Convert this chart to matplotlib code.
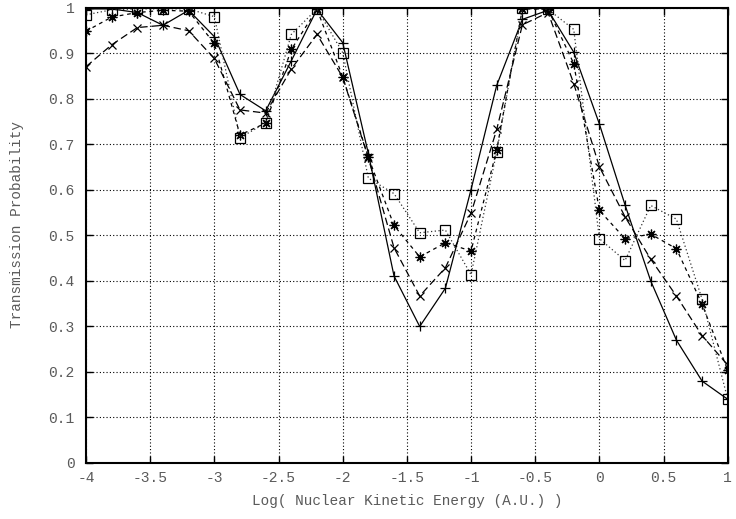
import matplotlib
matplotlib.use("Agg")
import matplotlib.pyplot as plt

# log10 of nuclear kinetic energy (A.U.)
log_energy = [-4.0, -3.8, -3.6, -3.4, -3.2, -3.0, -2.8, -2.6, -2.4, -2.2,
              -2.0, -1.8, -1.6, -1.4, -1.2, -1.0, -0.8, -0.6, -0.4, -0.2,
              0.0, 0.2, 0.4, 0.6, 0.8, 1.0]

prob_plus = [0.998, 0.998, 0.990, 0.962, 0.995, 0.937, 0.810, 0.774, 0.884, 0.997,
             0.924, 0.680, 0.411, 0.300, 0.384, 0.601, 0.830, 0.975, 0.995, 0.903,
             0.745, 0.567, 0.400, 0.270, 0.180, 0.140]
prob_cross = [0.871, 0.919, 0.957, 0.962, 0.950, 0.889, 0.776, 0.769, 0.866, 0.942,
              0.848, 0.670, 0.473, 0.367, 0.429, 0.549, 0.733, 0.963, 0.990, 0.834,
              0.651, 0.541, 0.448, 0.367, 0.280, 0.215]
prob_star = [0.949, 0.980, 0.990, 0.995, 0.993, 0.922, 0.721, 0.747, 0.909, 0.997,
             0.849, 0.672, 0.522, 0.453, 0.484, 0.466, 0.688, 0.998, 0.997, 0.878,
             0.555, 0.493, 0.503, 0.471, 0.349, 0.204]
prob_square = [0.985, 0.996, 0.998, 0.998, 0.998, 0.981, 0.715, 0.747, 0.942, 0.998,
               0.902, 0.626, 0.592, 0.506, 0.512, 0.414, 0.684, 0.999, 0.997, 0.953,
               0.493, 0.445, 0.566, 0.536, 0.360, 0.140]

xticks = [-4, -3.5, -3, -2.5, -2, -1.5, -1, -0.5, 0, 0.5, 1]
xtick_labels = ["-4", "-3.5", "-3", "-2.5", "-2", "-1.5", "-1", "-0.5", "0", "0.5", "1"]
yticks = [0, 0.1, 0.2, 0.3, 0.4, 0.5, 0.6, 0.7, 0.8, 0.9, 1]
ytick_labels = ["0", "0.1", "0.2", "0.3", "0.4", "0.5", "0.6", "0.7", "0.8", "0.9", "1"]

FONT = "Liberation Mono"
TEXT_COLOR = "#5a5a5a"

fig = plt.figure(figsize=(7.36, 5.19), dpi=100)
ax = fig.add_axes([0.1168, 0.1079, 0.872, 0.8767])

ax.plot(log_energy, prob_plus, color="black", lw=0.9, ls="-",
        marker="+", ms=7, mew=0.9)
ax.plot(log_energy, prob_cross, color="black", lw=0.9, ls=(0, (6, 3)),
        marker="x", ms=6, mew=0.9)
ax.plot(log_energy, prob_star, color="black", lw=0.9, ls=(0, (3, 3)),
        marker=(8, 2, 0), ms=7, mew=0.9)
ax.plot(log_energy, prob_square, color="#333333", lw=0.9, ls=(0, (1, 2)),
        marker="s", ms=7, mfc="none", mec="black", mew=0.9)

ax.set_xlim(-4, 1)
ax.set_ylim(0, 1)
ax.set_xticks(xticks)
ax.set_xticklabels(xtick_labels)
ax.set_yticks(yticks)
ax.set_yticklabels(ytick_labels)

ax.grid(True, color="black", ls=(0, (1, 2)), lw=0.8)
ax.tick_params(direction="in", length=5, width=1, top=True, right=True,
               labelsize=10.5, labelcolor=TEXT_COLOR)
ax.tick_params(axis="y", pad=8)
ax.tick_params(axis="x", pad=6)
for lab in ax.get_xticklabels() + ax.get_yticklabels():
    lab.set_family(FONT)

for side in ["left", "bottom", "top", "right"]:
    ax.spines[side].set_linewidth(1.5)
    ax.spines[side].set_color("black")

ax.set_xlabel("Log( Nuclear Kinetic Energy (A.U.) )", family=FONT,
              fontsize=10.4, color=TEXT_COLOR, labelpad=6)
ax.set_ylabel("Transmission Probability", family=FONT,
              fontsize=10.4, color=TEXT_COLOR)
ax.yaxis.set_label_coords(-0.096, 0.525)

fig.savefig("out.png", dpi=100)
